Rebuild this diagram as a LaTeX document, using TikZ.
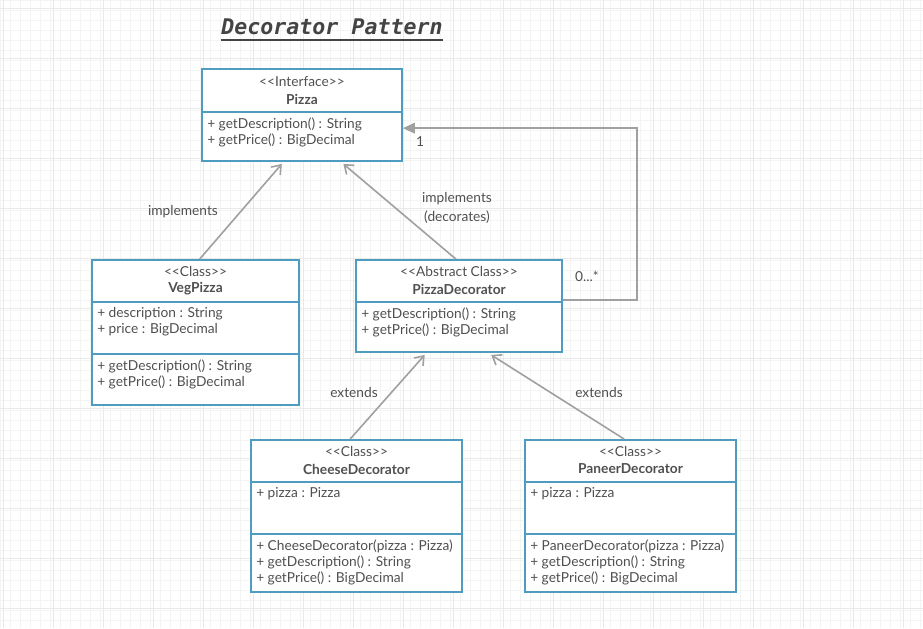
\documentclass[tikz,border=0pt]{standalone}
\usepackage{fontspec}
\setmainfont{Lato}
\newfontfamily\titlefont{DejaVu Sans Mono}
\usetikzlibrary{fit,calc,arrows.meta}
\definecolor{boxc}{HTML}{4E9DC0}
\definecolor{linec}{HTML}{A0A0A0}
\definecolor{txtc}{HTML}{505050}
\definecolor{gridminor}{HTML}{F4F4F4}
\definecolor{gridmajor}{HTML}{E9E9E9}
\newcommand\ltlt{<\kern0pt<}
\newcommand\gtgt{>\kern0pt>}
\begin{document}
\begin{tikzpicture}[x=0.75pt,y=-0.75pt,
  umlbox/.style={draw=boxc, line width=1.4pt, fill=white, inner sep=0pt},
  divider/.style={draw=boxc, line width=1.4pt},
  hdr/.style={text=txtc, font=\fontsize{10.3}{12}\selectfont, inner sep=0pt},
  hdrb/.style={text=txtc, font=\fontsize{10.3}{12}\selectfont\bfseries, inner sep=0pt},
  member/.style={text=txtc, font=\fontsize{10.3}{12}\selectfont, anchor=west, inner sep=0pt},
  conn/.style={draw=linec, line width=1.2pt},
  lbl/.style={text=txtc, font=\fontsize{10.3}{14}\selectfont, inner sep=0pt, align=center},
  openarrow/.style={-{Straight Barb[length=6pt,width=9pt,line width=1.2pt]}},
  filledarrow/.style={-{Triangle[length=9pt,width=8pt,fill=linec]}}
]
\useasboundingbox (0,0) rectangle (923,628);
\fill[white] (0,0) rectangle (923,628);
% background grid
\foreach \x in {0,10,...,920} \draw[gridminor, line width=0.4pt] (\x,0) -- (\x,628);
\foreach \y in {0,10,...,620} \draw[gridminor, line width=0.4pt] (0,\y) -- (923,\y);
\foreach \x in {3,53,...,903} \draw[gridmajor, line width=0.5pt] (\x,0) -- (\x,628);
\foreach \y in {8,58,...,608} \draw[gridmajor, line width=0.5pt] (0,\y) -- (923,\y);

% title
\node[text=txtc!85!black, font=\titlefont\fontsize{16.2}{18}\selectfont\bfseries\itshape, inner sep=0pt] (title) at (332,27) {Decorator Pattern};
\draw[txtc!85!black, line width=1.3pt] (title.south west |- 0,40) -- (title.south east |- 0,40);

% Pizza
\node[umlbox, fit={(202,69) (402,161)}] (pizza) {};
\draw[divider] (pizza.west |- 0,112) -- (pizza.east |- 0,112);
\node[hdr] (pizzaS) at (302,82) {\ltlt Interface\gtgt};
\node[hdrb] (pizzaN) at (302,99) {Pizza};
\node[member] (pizzaM1) at (207,124) {+ getDescription() : String};
\node[member] (pizzaM2) at (207,140) {+ getPrice() : BigDecimal};

% VegPizza
\node[umlbox, fit={(92,260) (299,405)}] (veg) {};
\draw[divider] (veg.west |- 0,302) -- (veg.east |- 0,302);
\draw[divider] (veg.west |- 0,354) -- (veg.east |- 0,354);
\node[hdr] (vegS) at (195.5,271) {\ltlt Class\gtgt};
\node[hdrb] (vegN) at (195.5,289) {VegPizza};
\node[member] (vegA1) at (97,314) {+ description : String};
\node[member] (vegA2) at (97,330) {+ price : BigDecimal};
\node[member] (vegM1) at (97,366) {+ getDescription() : String};
\node[member] (vegM2) at (97,382) {+ getPrice() : BigDecimal};

% PizzaDecorator
\node[umlbox, fit={(356,260) (562,352)}] (pd) {};
\draw[divider] (pd.west |- 0,302) -- (pd.east |- 0,302);
\node[hdr] (pdS) at (459,271) {\ltlt Abstract Class\gtgt};
\node[hdrb] (pdN) at (459,289) {PizzaDecorator};
\node[member] (pdM1) at (361,314) {+ getDescription() : String};
\node[member] (pdM2) at (361,330) {+ getPrice() : BigDecimal};

% CheeseDecorator
\node[umlbox, fit={(251,440) (462,592)}] (cheese) {};
\draw[divider] (cheese.west |- 0,482) -- (cheese.east |- 0,482);
\draw[divider] (cheese.west |- 0,534) -- (cheese.east |- 0,534);
\node[hdr] (chS) at (356.5,451) {\ltlt Class\gtgt};
\node[hdrb] (chN) at (356.5,469) {CheeseDecorator};
\node[member] (chA1) at (256,494) {+ pizza : Pizza};
\node[member] (chM1) at (256,546) {+ CheeseDecorator(pizza : Pizza)};
\node[member] (chM2) at (256,562) {+ getDescription() : String};
\node[member] (chM3) at (256,578) {+ getPrice() : BigDecimal};

% PaneerDecorator
\node[umlbox, fit={(525,440) (736,592)}] (paneer) {};
\draw[divider] (paneer.west |- 0,482) -- (paneer.east |- 0,482);
\draw[divider] (paneer.west |- 0,534) -- (paneer.east |- 0,534);
\node[hdr] (paS) at (630.5,451) {\ltlt Class\gtgt};
\node[hdrb] (paN) at (630.5,469) {PaneerDecorator};
\node[member] (paA1) at (530,494) {+ pizza : Pizza};
\node[member] (paM1) at (530,546) {+ PaneerDecorator(pizza : Pizza)};
\node[member] (paM2) at (530,562) {+ getDescription() : String};
\node[member] (paM3) at (530,578) {+ getPrice() : BigDecimal};

% connectors
\draw[conn, openarrow] ($(veg.north west)!0.52!(veg.north east)$) -- ($(pizza.south west)!0.40!(pizza.south east)+(0,2)$);
\node[lbl] (l1) at (183,212) {implements};
\draw[conn, openarrow] ($(pd.north west)!0.485!(pd.north east)$) -- ($(pizza.south west)!0.705!(pizza.south east)+(0,2)$);
\node[lbl] (l2) at (457,208) {implements\\(decorates)};
\draw[conn, openarrow] ($(cheese.north west)!0.47!(cheese.north east)$) -- ($(pd.south west)!0.335!(pd.south east)+(0,2)$);
\node[lbl] (l3) at (354,392) {extends};
\draw[conn, openarrow] ($(paneer.north west)!0.47!(paneer.north east)$) -- ($(pd.south west)!0.655!(pd.south east)+(0,2)$);
\node[lbl] (l4) at (599,392) {extends};
% aggregation loop
\coordinate (aggA) at ($(pd.north east)!0.435!(pd.south east)$);
\coordinate (aggB) at ($(pizza.north east)!0.64!(pizza.south east)$);
\draw[conn, filledarrow] (aggA) -- (aggA -| 637,0) -- (aggB -| 637,0) -- (aggB);
\node[lbl] (m1) at (420,142) {1};
\node[lbl] (m2) at (587,276) {0...*};
\end{tikzpicture}
\end{document}
